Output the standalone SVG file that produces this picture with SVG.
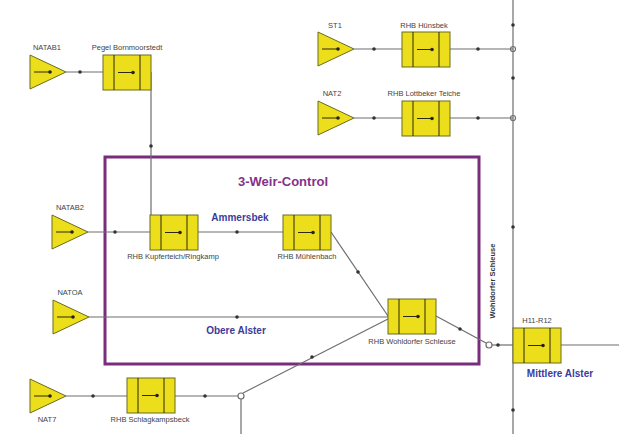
<svg xmlns="http://www.w3.org/2000/svg" xmlns:xlink="http://www.w3.org/1999/xlink" width="619" height="434" viewBox="0 0 619 434">
<style>
.ln{stroke:#6e6e6e;stroke-width:1.2;fill:none}
.dot{fill:#333}
.lb{font-family:"Liberation Sans",Arial,sans-serif;font-size:7.5px;fill:#444;text-anchor:middle}
.bl{font-family:"Liberation Sans",Arial,sans-serif;font-size:10px;font-weight:bold;fill:#3b3b9c;text-anchor:middle}
.ti{font-family:"Liberation Sans",Arial,sans-serif;font-size:13px;font-weight:bold;fill:#86308a;text-anchor:middle}
.yl{fill:#ecde1a;stroke:#6b6a20;stroke-width:1}
.in{stroke:#2a2a10;stroke-width:1;fill:none}
</style>
<defs>
<g id="weir">
<rect class="yl" x="0" y="0" width="48" height="35"/>
<line class="in" x1="11" y1="0" x2="11" y2="35"/>
<line class="in" x1="37" y1="0" x2="37" y2="35"/>
<line class="in" x1="15" y1="17.5" x2="30" y2="17.5"/>
<circle cx="30" cy="17.5" r="1.8" fill="#222"/>
</g>
<g id="src">
<polygon class="yl" points="0,0 36,17 0,34"/>
<line class="in" x1="4" y1="17" x2="20" y2="17"/>
<circle cx="20" cy="17" r="1.8" fill="#222"/>
</g>
</defs>
<rect width="619" height="434" fill="#ffffff"/>

<g id="weir-control">
<rect x="105" y="157" width="374" height="207" fill="none" stroke="#7a2c7c" stroke-width="3"/>
<text class="ti" x="283" y="186">3-Weir-Control</text>
</g>

<g id="connectors">
<line class="ln" x1="66" y1="72" x2="103" y2="72"/>
<line class="ln" x1="151" y1="72" x2="151" y2="215"/>
<line class="ln" x1="354" y1="49" x2="402" y2="49"/>
<line class="ln" x1="450" y1="49" x2="513" y2="49"/>
<line class="ln" x1="354" y1="118" x2="402" y2="118"/>
<line class="ln" x1="450" y1="118" x2="513" y2="118"/>
<line class="ln" x1="513" y1="0" x2="513" y2="434"/>
<line class="ln" x1="88" y1="232" x2="150" y2="232"/>
<line class="ln" x1="198" y1="232" x2="283" y2="232"/>
<line class="ln" x1="331" y1="232" x2="388" y2="316"/>
<line class="ln" x1="89" y1="317" x2="388" y2="317"/>
<line class="ln" x1="436" y1="316" x2="486" y2="343"/>
<circle class="ln" cx="489" cy="345" r="3"/>
<line class="ln" x1="492" y1="345" x2="513" y2="345"/>
<line class="ln" x1="561" y1="345" x2="619" y2="345"/>
<line class="ln" x1="66" y1="396" x2="127" y2="396"/>
<line class="ln" x1="175" y1="396" x2="238" y2="396"/>
<circle class="ln" cx="241" cy="396" r="3"/>
<line class="ln" x1="241" y1="399" x2="241" y2="434"/>
<line class="ln" x1="243" y1="393" x2="388" y2="319"/>
<circle class="dot" cx="80" cy="72" r="1.8"/>
<circle class="dot" cx="151" cy="146" r="1.8"/>
<circle class="dot" cx="374" cy="49" r="1.8"/>
<circle class="dot" cx="478" cy="49" r="1.8"/>
<circle class="dot" cx="374" cy="118" r="1.8"/>
<circle class="dot" cx="478" cy="118" r="1.8"/>
<circle class="dot" cx="513" cy="25" r="1.8"/>
<circle class="dot" cx="513" cy="78" r="1.8"/>
<circle class="dot" cx="513" cy="227" r="1.8"/>
<circle class="dot" cx="513" cy="410" r="1.8"/>
<circle class="ln" cx="513" cy="49" r="2.5"/>
<circle class="ln" cx="513" cy="118" r="2.5"/>
<circle class="dot" cx="115" cy="232" r="1.8"/>
<circle class="dot" cx="237" cy="232" r="1.8"/>
<circle class="dot" cx="358" cy="272" r="1.8"/>
<circle class="dot" cx="237" cy="317" r="1.8"/>
<circle class="dot" cx="460" cy="329" r="1.8"/>
<circle class="dot" cx="498" cy="345" r="1.8"/>
<circle class="dot" cx="93" cy="396" r="1.8"/>
<circle class="dot" cx="205" cy="396" r="1.8"/>
<circle class="dot" cx="312" cy="357" r="1.8"/>
</g>

<g id="NATAB1"><use xlink:href="#src" x="30" y="55"/><text class="lb" x="47" y="50">NATAB1</text></g>
<g id="pegel"><use xlink:href="#weir" x="103" y="55"/><text class="lb" x="127" y="50">Pegel Bornmoorstedt</text></g>
<g id="ST1"><use xlink:href="#src" x="318" y="32"/><text class="lb" x="335" y="28">ST1</text></g>
<g id="rhb-huensbek"><use xlink:href="#weir" x="402" y="32"/><text class="lb" x="424" y="28">RHB Hünsbek</text></g>
<g id="NAT2"><use xlink:href="#src" x="318" y="101"/><text class="lb" x="332" y="96">NAT2</text></g>
<g id="rhb-lottbek"><use xlink:href="#weir" x="402" y="101"/><text class="lb" x="424" y="96">RHB Lottbeker Teiche</text></g>
<g id="NATAB2"><use xlink:href="#src" x="52" y="215"/><text class="lb" x="70" y="210">NATAB2</text></g>
<g id="rhb-kupferteich"><use xlink:href="#weir" x="150" y="215"/><text class="lb" x="173" y="259">RHB Kupferteich/Ringkamp</text></g>
<g id="rhb-muehlenbach"><use xlink:href="#weir" x="283" y="215"/><text class="lb" x="307" y="259">RHB Mühlenbach</text></g>
<g id="ammersbek"><text class="bl" x="240" y="221">Ammersbek</text></g>
<g id="NATOA"><use xlink:href="#src" x="53" y="300"/><text class="lb" x="70" y="295">NATOA</text></g>
<g id="obere-alster"><text class="bl" x="236" y="334">Obere Alster</text></g>
<g id="rhb-wohldorf"><use xlink:href="#weir" x="388" y="299"/><text class="lb" x="412" y="344">RHB Wohldorfer Schleuse</text></g>
<g id="wohldorfer-schleuse"><text class="lb" style="font-weight:bold;fill:#333" transform="translate(495,281) rotate(-90)">Wohldorfer Schleuse</text></g>
<g id="H11-R12"><use xlink:href="#weir" x="513" y="328"/><text class="lb" x="537" y="323">H11-R12</text></g>
<g id="mittlere-alster"><text class="bl" x="560" y="377">Mittlere Alster</text></g>
<g id="NAT7"><use xlink:href="#src" x="30" y="379"/><text class="lb" x="47" y="422">NAT7</text></g>
<g id="rhb-schlagkamp"><use xlink:href="#weir" x="127" y="378"/><text class="lb" x="150" y="422">RHB Schlagkampsbeck</text></g>
</svg>
